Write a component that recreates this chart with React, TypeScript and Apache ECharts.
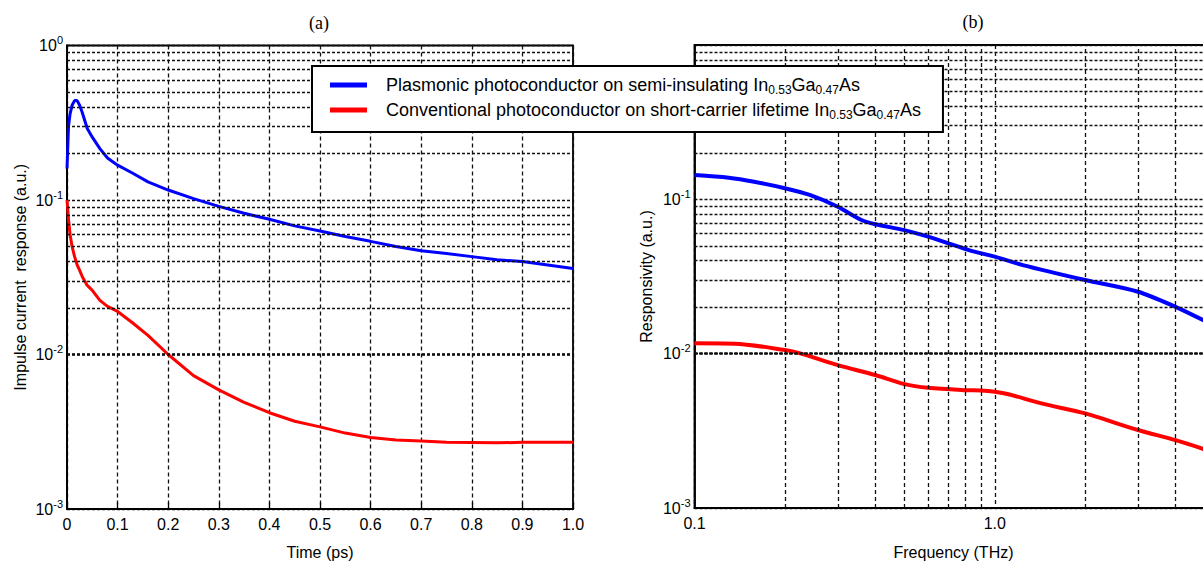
import React, { useEffect, useRef } from "react";
import * as echarts from "echarts";

// ---------- data ----------
const timePs = [0, 0.003, 0.006, 0.01, 0.015, 0.02, 0.025, 0.03, 0.04, 0.05, 0.065, 0.08, 0.1, 0.13, 0.16, 0.2, 0.25, 0.3, 0.35, 0.4, 0.45, 0.5, 0.55, 0.6, 0.65, 0.7, 0.75, 0.8, 0.85, 0.9, 0.95, 1.0];
const impulsePlasmonic = [0.16, 0.30, 0.36, 0.41, 0.44, 0.44, 0.41, 0.37, 0.29, 0.255, 0.215, 0.187, 0.168, 0.149, 0.131, 0.116, 0.102, 0.091, 0.082, 0.075, 0.068, 0.063, 0.058, 0.054, 0.050, 0.047, 0.045, 0.043, 0.041, 0.040, 0.038, 0.036];
const impulseConventional = [0.1, 0.075, 0.06, 0.05, 0.043, 0.038, 0.035, 0.032, 0.028, 0.026, 0.0224, 0.0205, 0.019, 0.016, 0.0133, 0.0100, 0.0073, 0.0059, 0.0049, 0.0042, 0.0037, 0.0034, 0.0031, 0.0029, 0.0028, 0.00275, 0.0027, 0.00269, 0.00268, 0.0027, 0.0027, 0.0027];

const freqPlasmonic = [0.1, 0.13, 0.158, 0.2, 0.242, 0.3, 0.36, 0.4, 0.5, 0.6, 0.7, 0.82, 1.0, 1.24, 2.0, 3.0, 4.0, 5.0];
const respPlasmonic = [0.1437, 0.138, 0.130, 0.118, 0.1067, 0.0895, 0.0734, 0.069, 0.0632, 0.0573, 0.0519, 0.0469, 0.0425, 0.0375, 0.030, 0.0252, 0.0201, 0.0163];
const freqConventional = [0.1, 0.136, 0.2, 0.225, 0.3, 0.4, 0.5, 0.6, 0.8, 0.9, 1.0, 1.11, 1.43, 2.0, 3.0, 4.0, 5.0];
const respConventional = [0.01166, 0.0116, 0.01055, 0.01004, 0.00843, 0.00727, 0.00635, 0.00601, 0.0058, 0.00577, 0.00566, 0.00546, 0.00476, 0.0041, 0.0032, 0.00275, 0.0024];

const yMinorTicks = [0.002, 0.003, 0.004, 0.005, 0.006, 0.007, 0.008, 0.009, 0.02, 0.03, 0.04, 0.05, 0.06, 0.07, 0.08, 0.09, 0.2, 0.3, 0.4, 0.5, 0.6, 0.7, 0.8, 0.9];
const freqMinorTicks = [0.2, 0.3, 0.4, 0.5, 0.6, 0.7, 0.8, 0.9, 2, 3, 4, 5, 6, 7, 8, 9];

const NAME_P = "Plasmonic";
const NAME_C = "Conventional";
const legendLabels: Record<string, string> = {
  [NAME_P]: "{g|}{t|Plasmonic photoconductor on semi-insulating In}{s|0.53}{t|Ga}{s|0.47}{t|As}",
  [NAME_C]: "{g|}{t|Conventional photoconductor on short-carrier lifetime In}{s|0.53}{t|Ga}{s|0.47}{t|As}",
};

const SANS = '"Liberation Sans", Arial, sans-serif';
const SERIF = '"Liberation Serif", "Times New Roman", serif';
const BLUE = "#0000ff";
const RED = "#ff0000";
const GRIDC = "#111";

const supLabel = (v: number) => {
  const e = Math.round(Math.log10(v));
  return `{b|10}{s|${e}}`;
};
const supRich = {
  b: { fontSize: 16, fontFamily: SANS, color: "#000", lineHeight: 22 },
  s: { fontSize: 11, fontFamily: SANS, color: "#000", lineHeight: 22, verticalAlign: "top" },
};

const hDash = { type: [3, 2], color: GRIDC, width: 1.3 };
const vDash = { type: [4, 3], color: GRIDC, width: 1.3 };

function buildOption() {
  return {
    animation: false,
    backgroundColor: "#fff",
    grid: [
      { left: 67, top: 45.5, width: 506, height: 463.5, show: true, borderColor: "#000", borderWidth: 1.8, backgroundColor: "transparent" },
      { left: 694.5, top: 45, width: 600.5, height: 463, show: true, borderColor: "#000", borderWidth: 1.8, backgroundColor: "transparent" },
    ],
    xAxis: [
      {
        gridIndex: 0, type: "value", min: 0, max: 1, interval: 0.1,
        name: "Time (ps)", nameLocation: "middle", nameGap: 35,
        nameTextStyle: { fontSize: 16, fontFamily: SANS, color: "#000" },
        axisLine: { show: true, lineStyle: { color: "#000", width: 1.8 } },
        axisTick: { show: true, inside: true, length: 6, lineStyle: { color: "#000", width: 1.3 } },
        axisLabel: { fontSize: 16, fontFamily: SANS, color: "#000", margin: 7, formatter: (v: number) => (v === 0 ? "0" : v.toFixed(1)) },
        splitLine: { show: true, lineStyle: vDash },
      },
      {
        gridIndex: 1, type: "log", logBase: 10, min: 0.1, max: 10,
        axisLine: { show: true, lineStyle: { color: "#000", width: 1.8 } },
        axisTick: { show: false },
        axisLabel: { fontSize: 16, fontFamily: SANS, color: "#000", margin: 7, formatter: (v: number) => (v < 5 ? v.toFixed(1) : "") },
        splitLine: { show: true, lineStyle: vDash },
      },
    ],
    yAxis: [
      {
        gridIndex: 0, type: "log", logBase: 10, min: 0.001, max: 1,
        name: "Impulse current  response (a.u.)", nameLocation: "middle", nameGap: 39,
        nameTextStyle: { fontSize: 16, fontFamily: SANS, color: "#000" },
        axisLine: { show: true, lineStyle: { color: "#000", width: 1.8 } },
        axisTick: { show: false },
        axisLabel: { margin: 4, formatter: supLabel, rich: supRich },
        splitLine: { show: true, lineStyle: hDash },
      },
      {
        gridIndex: 1, type: "log", logBase: 10, min: 0.001, max: 1,
        name: "Responsivity (a.u.)", nameLocation: "middle", nameGap: 40,
        nameTextStyle: { fontSize: 16, fontFamily: SANS, color: "#000" },
        axisLine: { show: true, lineStyle: { color: "#000", width: 1.8 } },
        axisTick: { show: false },
        axisLabel: { margin: 4, formatter: (v: number) => (v >= 0.5 ? "" : supLabel(v)), rich: supRich },
        splitLine: { show: true, lineStyle: hDash },
      },
    ],
    legend: {
      data: [NAME_P, NAME_C],
      orient: "vertical",
      left: 312, top: 66,
      icon: "rect", itemWidth: 37, itemHeight: 5, itemGap: 5,
      padding: [10, 22, 11, 18],
      borderColor: "#000", borderWidth: 2, backgroundColor: "#fff",
      selectedMode: false,
      formatter: (name: string) => legendLabels[name],
      textStyle: {
        rich: {
          g: { width: 14 },
          t: { fontSize: 18, fontFamily: SANS, color: "#000", lineHeight: 22 },
          s: { fontSize: 12, fontFamily: SANS, color: "#000", lineHeight: 22, verticalAlign: "bottom" },
        },
      },
      z: 10,
    },
    graphic: [
      { type: "text", x: 319, y: 23, style: { text: "(a)", font: `18px ${SERIF}`, fill: "#000", align: "center", verticalAlign: "middle" } },
      { type: "text", x: 973, y: 22, style: { text: "(b)", font: `18px ${SERIF}`, fill: "#000", align: "center", verticalAlign: "middle" } },
      { type: "text", x: 953.5, y: 552, style: { text: "Frequency (THz)", font: `16px ${SANS}`, fill: "#000", align: "center", verticalAlign: "middle" } },
    ],
    series: [
      {
        type: "line", xAxisIndex: 0, yAxisIndex: 0, data: [], z: 1, silent: true,
        markLine: { silent: true, symbol: ["none", "none"], label: { show: false }, lineStyle: hDash, animation: false, data: yMinorTicks.map((v) => ({ yAxis: v })) },
      },
      {
        type: "line", xAxisIndex: 1, yAxisIndex: 1, data: [], z: 1, silent: true,
        markLine: {
          silent: true, symbol: ["none", "none"], label: { show: false }, animation: false,
          data: [
            ...yMinorTicks.map((v) => ({ yAxis: v, lineStyle: hDash })),
            ...freqMinorTicks.map((v) => ({ xAxis: v, lineStyle: vDash })),
          ],
        },
      },
      {
        name: NAME_P, type: "line", xAxisIndex: 0, yAxisIndex: 0, z: 3, showSymbol: false,
        data: timePs.map((t, i) => [t, impulsePlasmonic[i]]),
        lineStyle: { color: BLUE, width: 3 }, itemStyle: { color: BLUE },
      },
      {
        name: NAME_C, type: "line", xAxisIndex: 0, yAxisIndex: 0, z: 3, showSymbol: false,
        data: timePs.map((t, i) => [t, impulseConventional[i]]),
        lineStyle: { color: RED, width: 3 }, itemStyle: { color: RED },
      },
      {
        name: NAME_P, type: "line", xAxisIndex: 1, yAxisIndex: 1, z: 3, showSymbol: false, smooth: 0.3,
        data: freqPlasmonic.map((f, i) => [f, respPlasmonic[i]]),
        lineStyle: { color: BLUE, width: 4 }, itemStyle: { color: BLUE },
      },
      {
        name: NAME_C, type: "line", xAxisIndex: 1, yAxisIndex: 1, z: 3, showSymbol: false, smooth: 0.3,
        data: freqConventional.map((f, i) => [f, respConventional[i]]),
        lineStyle: { color: RED, width: 4 }, itemStyle: { color: RED },
      },
    ],
  };
}

export default function App() {
  const ref = useRef<HTMLDivElement>(null);
  useEffect(() => {
    if (!ref.current) return;
    const chart = echarts.init(ref.current, null, { renderer: "svg" });
    chart.setOption(buildOption() as any);
    return () => chart.dispose();
  }, []);
  return (
    <div style={{ position: "fixed", left: 0, top: 0, width: 1203, height: 565, overflow: "hidden", background: "#fff" }}>
      <div ref={ref} style={{ width: 1310, height: 565 }} />
    </div>
  );
}
